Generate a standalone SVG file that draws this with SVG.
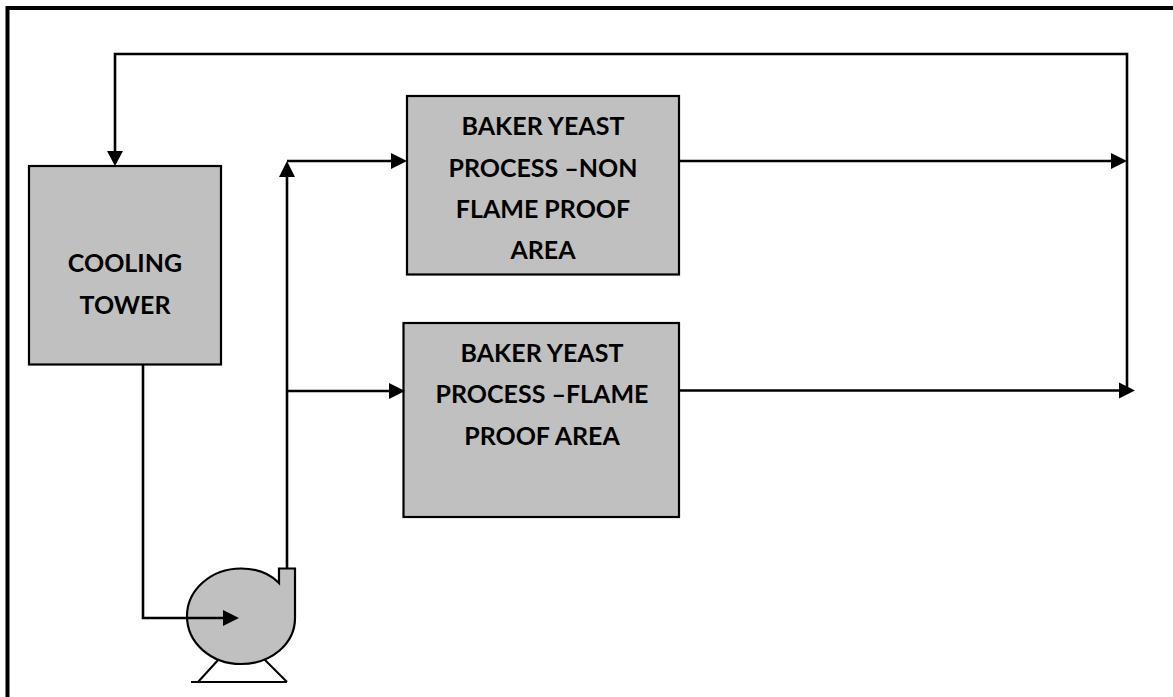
<svg xmlns="http://www.w3.org/2000/svg" width="1173" height="697" viewBox="0 0 1173 697">
<style>
.box{fill:#c0c0c0;stroke:#000;stroke-width:2.200}
.ln{fill:none;stroke:#000;stroke-width:2.600}
.th{stroke-width:2}
.ah{fill:#000;stroke:none}
text{font-family:"Lato","Carlito","Liberation Sans",sans-serif;font-weight:700;font-size:25px;fill:#000;text-anchor:middle}
</style>
<rect width="1173" height="697" fill="#fff"/>
<path d="M7.500 697V8H1173" fill="none" stroke="#000" stroke-width="4"/>
<g id="cooling-tower">
<rect class="box" x="29" y="166" width="192" height="198.500"/>
<text x="125" y="272">COOLING</text>
<text x="125" y="314">TOWER</text>
</g>
<g id="process-non-flame">
<rect class="box" x="407" y="96" width="272" height="178.500"/>
<text x="543" y="135">BAKER YEAST</text>
<text x="543" y="177">PROCESS –NON</text>
<text x="543" y="218">FLAME PROOF</text>
<text x="543" y="259">AREA</text>
</g>
<g id="process-flame">
<rect class="box" x="403.500" y="323" width="275.500" height="194"/>
<text x="542" y="362">BAKER YEAST</text>
<text x="542" y="403">PROCESS –FLAME</text>
<text x="542" y="445">PROOF AREA</text>
</g>
<g id="pump">
<path d="M198 682L219 659M264 659L287 682M191 682H287" class="ln th"/>
<path class="box" d="M279 583V568.500H295V618C295 644 271 664 241 664C211 664 187 643 187 616C187 590 211 568.500 241 568.500C256 568.500 270 574 279 583Z"/>
</g>
<g id="connectors">
<path class="ln" d="M143 365V618H224"/>
<path class="ah" d="M223 610L239 618L223 626Z"/>
<path class="ln" d="M287 568V175"/>
<path class="ah" d="M279 177L287 161L295 177Z"/>
<path class="ln" d="M287 161H392"/>
<path class="ah" d="M391 153L407 161L391 169Z"/>
<path class="ln" d="M287 391H390"/>
<path class="ah" d="M389 383L405 391L389 399Z"/>
<path class="ln" d="M679 161H1112"/>
<path class="ah" d="M1111 153L1127 161L1111 169Z"/>
<path class="ln" d="M679 390.500H1120"/>
<path class="ah" d="M1119 382.500L1135 390.500L1119 398.500Z"/>
<path class="ln" d="M1127 390V54H115V152"/>
<path class="ah" d="M107 151L115 166L123 151Z"/>
</g>
</svg>
